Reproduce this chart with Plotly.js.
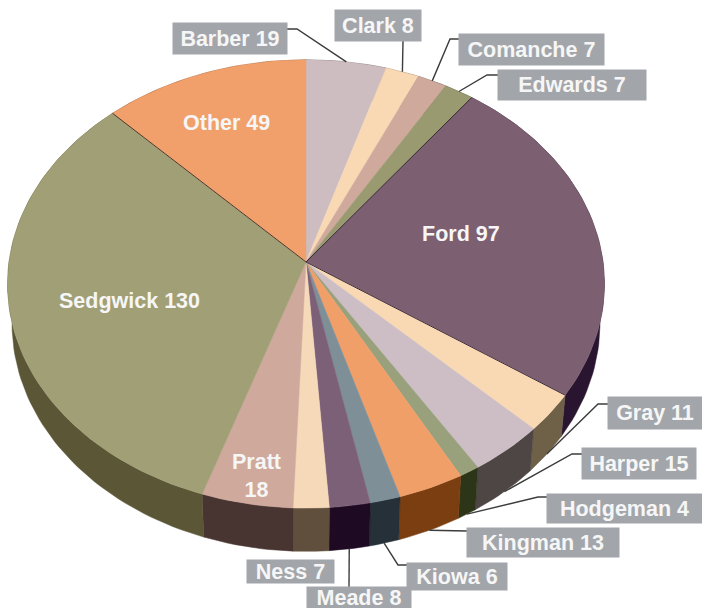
<!DOCTYPE html>
<html><head><meta charset="utf-8">
<script src="https://cdn.plot.ly/plotly-3.0.1.min.js"></script>
<style>html,body{margin:0;padding:0;background:#fff}#c{width:702px;height:608px}</style>
</head><body><div id="c"></div>
<script>
const categories = ["Barber","Clark","Comanche","Edwards","Ford","Gray","Harper","Hodgeman","Kingman","Kiowa","Meade","Ness","Pratt","Sedgwick","Other"];
const values = [19,8,7,7,97,11,15,4,13,6,8,7,18,130,49];
const topColors = ["#CDBDC1","#F8D9B4","#CFAA9C","#9A9A70","#7C6072","#F8D9B4","#CDBEC5","#98A07C","#F09F68","#7E8F98","#7C6078","#F6D9B8","#CFA99C","#A19F75","#F1A06C"];
const wallColors = ["#5C5050","#6E6148","#5A4A42","#45452A","#2A1530","#6E6148","#4E4644","#2D3518","#7A3E10","#263038","#1E0A22","#5F4F3C","#483430","#5A5636","#7A4A28"];

// projection of the tilted disc; the lower rim sits slightly further from the camera
const view = {cx:306, cy:262, a:297, b:222, k:0.098, h:39, shrink:0.985};
function proj(deg, r, drop){
  const t = deg*Math.PI/180, u = r*Math.sin(t), v = -r*Math.cos(t), w = 1 - view.k*v;
  return [view.cx + (drop?view.shrink:1)*view.a*u/w, view.cy + (view.b*v + (drop?view.h:0))/w];
}
function arc(a0,a1,drop){
  const n = Math.max(2, Math.ceil((a1-a0)/1.5)), out = [];
  for(let i=0;i<=n;i++) out.push(proj(a0+(a1-a0)*i/n,1,drop));
  return out;
}
const total = values.reduce((s,v)=>s+v,0);
const starts = [], ends = [];
values.reduce((acc,v,i)=>{starts[i]=acc/total*360; ends[i]=(acc+v)/total*360; return acc+v;},0);

const traces = [];
function poly(pts,color,lw,name){
  traces.push({type:"scatter",mode:"lines",x:pts.map(p=>p[0]),y:pts.map(p=>p[1]),fill:"toself",fillcolor:color,
    line:{color:color,width:lw},hoverinfo:"skip",showlegend:false,name:name});
}
// walls first
categories.forEach((c,i)=>{
  const t = arc(starts[i],ends[i],false), b = arc(starts[i],ends[i],true).reverse();
  const p = t.concat(b); p.push(t[0]);
  poly(p,wallColors[i],0.5,c+" side");
});
// top faces
categories.forEach((c,i)=>{
  const p = [proj(0,0,false)].concat(arc(starts[i],ends[i],false)); p.push(proj(0,0,false));
  poly(p,topColors[i],0.5,c);
});
// dark seams
[[4,"#3a2a3a"],[5,"#3a2a3a"],[14,"#4a3a30"]].forEach(([i,col])=>{
  const e = proj(starts[i],1,false), o = proj(0,0,false);
  traces.push({type:"scatter",mode:"lines",x:[o[0],e[0]],y:[o[1],e[1]],line:{color:col,width:1},hoverinfo:"skip",showlegend:false});
});

// label boxes: [category index, left, top, right, bottom, knee x, knee y, attach x, attach y]
const boxes = [
 [0,173,23,287,54,297,29,287,29],
 [1,335,10,421,41,403,41,403,41],
 [2,459,34,604,65,450,39,459,39],
 [3,498,70,646,100,487,75,498,75],
 [5,608,397,702,429,598,404,608,404],
 [6,582,448,696,479,572,454,582,454],
 [7,547,494,702,523,538,497,547,497],
 [8,467,528,619,557,455,531,467,531],
 [9,407,563,507,590,398,565,407,565],
 [10,307,587,411,608,349,587,349,587],
 [11,247,560,334,583,null,null,null,null]
];
const ann = [];
const backSide = new Set([0,1,2,3]);
const labelFont = {family:"Liberation Sans, Arial, sans-serif",size:21.5,color:"#F6F6F6",weight:700};
boxes.forEach(([i,l,t,r,b,kx,ky,ax,ay])=>{
  ann.push({x:(l+r)/2,y:(t+b)/2,xref:"x",yref:"y",showarrow:false,text:categories[i]+" "+values[i],
    width:r-l,height:b-t,bgcolor:"#A2A6AB",borderpad:0,align:"center",valign:"middle",font:labelFont});
  if(kx!==null){
    const e = proj((starts[i]+ends[i])/2,1,!backSide.has(i));
    traces.push({type:"scatter",mode:"lines",x:[ax,kx,e[0]],y:[ay,ky,e[1]],line:{color:"#3C3C3C",width:1.4},hoverinfo:"skip",showlegend:false});
  }
});
// labels inside the slices: [category index, centre x, centre y, line break]
const inner = [[14,226,123,false],[4,461,234,false],[13,129,301,false],[12,256,476,true]];
inner.forEach(([i,x,y,br])=>{
  ann.push({x:x,y:y,xref:"x",yref:"y",showarrow:false,text:categories[i]+(br?"<br>":" ")+values[i],font:labelFont});
});

Plotly.newPlot("c",traces,{
  width:702,height:608,margin:{l:0,r:0,t:0,b:0},paper_bgcolor:"#fff",plot_bgcolor:"#fff",showlegend:false,
  xaxis:{range:[0,702],visible:false,fixedrange:true},
  yaxis:{range:[608,0],visible:false,fixedrange:true},
  annotations:ann
},{displayModeBar:false,staticPlot:true});
</script></body></html>
